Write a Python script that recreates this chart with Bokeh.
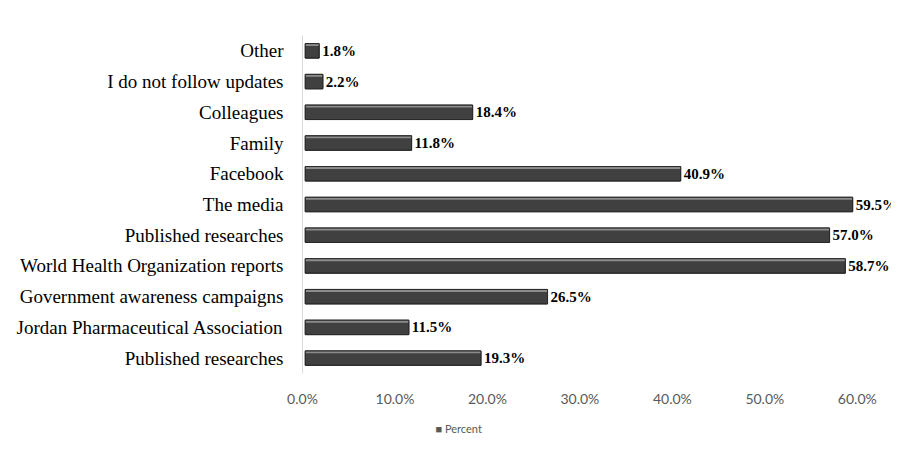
from bokeh.plotting import figure
from bokeh.models import ColumnDataSource, FixedTicker, Title, CustomJSTickFormatter
from bokeh.core.properties import value
from bokeh.transform import dodge
from bokeh.embed import file_html
from bokeh.resources import INLINE

categories = ["Other", "I do not follow updates", "Colleagues", "Family", "Facebook",
              "The media", "Published researches", "World Health Organization reports",
              "Government awareness campaigns", "Jordan Pharmaceutical Association",
              "Published researches"]
percent = [1.8, 2.2, 18.4, 11.8, 40.9, 59.5, 57.0, 58.7, 26.5, 11.5, 19.3]
x_ticks = [0, 10, 20, 30, 40, 50, 60]
series_name = "Percent"

n = len(categories)
ypos = [n - i for i in range(n)]
labels = [f"{v:.1f}%" for v in percent]
src = ColumnDataSource(dict(y=ypos, v=percent, lab=labels))

p = figure(width=891, height=444, output_backend="svg", toolbar_location=None,
           x_range=(0, 63.7), y_range=(0.5, n + 0.5),
           min_border_left=302, min_border_top=35, min_border_right=0, min_border_bottom=70)
p.background_fill_color = "white"
p.outline_line_color = None
p.grid.visible = False

bars = p.hbar(y="y", right="v", left=0.3, height=0.47, source=src,
              fill_color="#404040", line_color="#2a2a2a", line_width=1)
# 3D-like highlight on top edge
p.hbar(y=dodge("y", 0.19), right="v", left=0.3, height=0.07, source=src,
       fill_color="#8c8c8c", line_color=None)
p.hbar(y="y", right="v", left=0.3, height=0.47, source=src, fill_color=None,
       line_color="#2a2a2a", line_width=1)
p.text(x="v", y="y", text="lab", source=src, x_offset=3,
       text_font=value("Liberation Serif"), text_font_style="bold",
       text_font_size="15px", text_baseline="middle", text_align="left",
       text_color="black")

# axes
p.xaxis.ticker = FixedTicker(ticks=x_ticks)
p.xaxis.formatter = CustomJSTickFormatter(code="return tick.toFixed(1) + '%';")
p.xaxis.axis_line_color = None
p.xaxis.major_tick_line_color = None
p.xaxis.minor_tick_line_color = None
p.xaxis.major_label_standoff = 10
p.xaxis.major_label_text_font = "Lato"
p.xaxis.major_label_text_font_size = "14px"
p.xaxis.major_label_text_color = "#595959"

p.yaxis.ticker = FixedTicker(ticks=ypos)
p.yaxis.major_label_overrides = {y: c for y, c in zip(ypos, categories)}
p.yaxis.axis_line_color = "#d9d9d9"
p.yaxis.major_tick_line_color = None
p.yaxis.minor_tick_line_color = None
p.yaxis.major_label_standoff = 13
p.yaxis.major_label_text_font = "'Liberation Serif', serif"
p.yaxis.major_label_text_font_size = "19px"
p.yaxis.major_label_text_color = "black"

leg = Title(text="\u25a0  " + series_name, align="left", offset=133,
            text_font="Lato", text_font_size="11px", text_font_style="normal",
            text_color="#595959", standoff=20)
p.add_layout(leg, "below")

open("out.html", "w").write(file_html(p, INLINE))
